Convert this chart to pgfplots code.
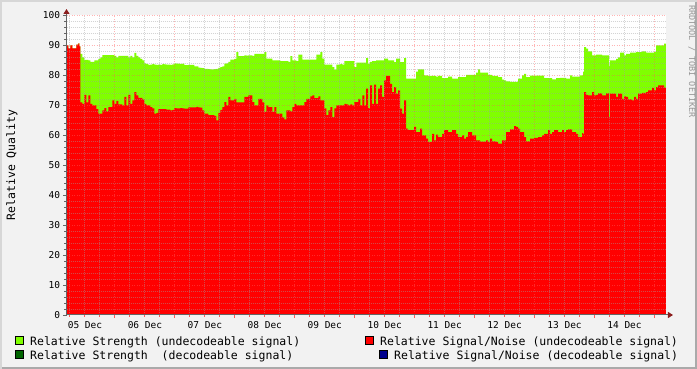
\documentclass[border=0pt]{standalone}
\usepackage{pgfplots}
\pgfplotsset{compat=1.18}
\usepackage{pgfplotstable}
\usepackage{fontspec}
\setmainfont{DejaVu Sans Mono}
\usetikzlibrary{arrows.meta}
\definecolor{bggray}{RGB}{242,242,242}
\definecolor{sgreen}{RGB}{128,255,0}
\definecolor{sred}{RGB}{255,0,0}
\definecolor{dgreen}{RGB}{0,100,0}
\definecolor{dblue}{RGB}{0,0,140}
\definecolor{arrowred}{RGB}{140,30,30}
\definecolor{axgray}{RGB}{100,100,100}
\definecolor{mgridred}{RGB}{255,90,90}
\definecolor{gridgray}{RGB}{160,160,160}

\pgfplotstableread{
x g r
66 90 90
68 89 89
70 90 90
72 89 89
74 89 89
76 90.3 90.3
78 90.7 90.7
79 89.7 89.7
80 87.2 71
82 86 70.5
84 85.2 73.5
86 85.2 71
88 85 73.3
90 84.5 70.5
92 84.5 70
94 85 70
96 85 68.7
98 85.5 67.2
100 86 67.2
102 86.8 68.3
104 86.8 69.1
106 86.8 68
108 86.8 69.4
110 86.8 69.4
112 86.8 71.7
114 86.5 70.5
116 86 71.5
118 86.5 70.3
120 86.5 70.3
122 86.5 70
124 86.5 72.8
126 86.5 70
128 86 73.5
130 86.5 70.5
132 86 71.7
134 87.5 74.4
136 86.5 73.3
138 86 72.5
140 85.5 72.5
142 85 72
144 84 70.5
146 83.8 70
148 83.5 70
150 83.6 69.4
152 83.8 69
154 83.6 67.2
156 83.5 67.5
158 83.6 68.7
160 83.5 68.7
162 83.8 68.7
164 83.7 68.7
166 83.6 68.6
168 83.6 68.6
170 83.5 68.3
172 83.7 68.5
174 84.0 69.1
176 83.9 69
178 83.9 69
180 83.8 69.1
182 83.9 69
184 83.4 68.9
186 83.4 68.9
188 83.5 69.3
190 83.5 69.3
192 83.5 69.3
194 83 69.3
196 83 69.5
198 82.6 69.3
200 82.5 69.2
202 82.4 68.3
204 82.2 67.2
206 82.2 67.2
208 82.1 66.7
210 82 66.7
212 82 66.7
214 82.1 66.5
216 82.2 65
218 82.5 67.5
220 82.8 68.5
222 83 69.4
224 83.9 71.1
226 84 70
228 84.5 72.8
230 85.3 71.7
232 85.3 71.7
234 85.5 72.2
236 87.8 71
238 86.4 71
240 86.4 71
242 86.4 71
244 86.7 72.8
246 86.6 72.8
248 86.7 73.3
250 86.7 73.3
252 86.5 71.1
254 87.2 70
256 87.2 70
258 87.2 72.2
260 87.2 72.2
262 87.2 71
264 87.8 67.8
266 85.6 70
268 85.6 69.4
270 85.6 69.4
272 85 67.8
274 85 69.4
276 85 67.2
278 85 67.2
280 84.8 67.2
282 84.8 66
284 84.8 65.3
286 84.8 68.3
288 84.5 68.3
290 86.4 68
292 85 69.4
294 85 70.5
296 84.8 70
298 86.9 70
300 86.9 70
302 85.3 70
304 85.3 71.1
306 85.3 72.2
308 85.3 72.2
310 85.3 73
312 85.3 73.3
314 85.3 72.4
316 86.9 72.4
318 86.9 73
320 87.8 71.7
322 85.6 71.7
324 83.6 69
326 83.6 66.7
328 83.6 68.3
330 83.6 69.4
332 82.8 66.1
334 81.9 69
336 83.6 70
338 83.6 70
340 83.8 70
342 83.6 70
344 84.8 70.5
346 84.8 70.3
348 84.8 70
350 84.8 70.3
352 84.8 70
354 82.8 71.1
356 84.3 71.1
358 84.3 72.2
360 84.3 70
362 84.3 73.3
364 84.3 70
366 85.8 75.6
368 83.9 69.1
370 84.5 76.7
372 84.8 70.5
374 84.8 76.9
376 85 70.5
378 85 75.6
380 85 76.7
382 85 72.8
384 85.6 78.3
386 85.6 79.8
388 85 79.8
390 85 77.2
392 85 74.4
394 84.4 76.1
396 85.6 73.9
398 85.6 75
400 84.4 68.9
402 84.4 67.2
404 85.8 71.7
406 78.9 62.2
408 78.9 61.7
410 78.9 61.7
412 78.9 61.7
414 78.9 62.8
416 81.3 61.1
418 82 61.1
420 82 62.2
422 82 60
424 80 60
426 80 58.9
428 79.8 57.8
430 79.8 57.8
432 79.8 60.5
434 79.8 58.3
436 79.6 60.2
438 79.8 59.4
440 79.8 59.4
442 79.1 60.5
444 79.1 61.7
446 79.1 61.7
448 79.6 61.1
450 79.6 61.1
452 78.9 61.7
454 78.9 61.7
456 78.9 60.5
458 79.4 59.4
460 79.4 59.4
462 79.4 60
464 79.4 58.9
466 80.2 59.5
468 80.2 61.1
470 80.2 61.1
472 80.2 60
474 80.2 60
476 80.9 58.3
478 82 58.3
480 80.9 57.9
482 80.9 57.9
484 80.9 57.9
486 80.9 58.3
488 80.2 57.8
490 80.2 58.9
492 79.8 58
494 79.8 58
496 79.8 57.8
498 79.4 57.2
500 79.4 57.2
502 78.6 58.3
504 78.3 58.3
506 78 61.1
508 78 61.1
510 77.8 62
512 77.8 62
514 77.8 63.1
516 77.8 62.8
518 78.9 62.2
520 78.9 61.1
522 80 61.1
524 80.5 59.4
526 79.4 58
528 79.4 58
530 79.9 58.9
532 79.9 58.9
534 79.9 59.1
536 79.9 59.1
538 79.9 59.4
540 79.9 59.4
542 79.9 60
544 79.1 60.5
546 79.1 60.5
548 79.1 61.7
550 79.1 60.5
552 78.7 61.1
554 78.7 61.7
556 79.1 61.7
558 79.1 61.1
560 79.2 61.1
562 79.2 61.7
564 79.2 61.1
566 78.9 61.7
568 78.9 62
570 80 62
572 79.6 61.1
574 79.6 61.1
576 79.6 60.5
578 79.6 59.4
580 80 59.4
582 80 60.7
583 81.3 60.5
584 89.4 74.4
586 88.9 73.5
588 88 73.3
590 88 73.3
592 86.7 74.4
594 86.7 73.3
596 86.9 73.5
598 86.9 74
600 86.9 74
602 86.7 73.3
604 86.7 73.3
606 86.7 74
608 86.7 74
609 83.3 66.1
610 85 73.9
612 85 73.9
614 85 73.9
616 85.5 72.8
618 86 73.9
620 87.6 73.9
622 87.6 72.2
624 86.7 73
626 87.2 72.8
628 87.2 72
630 87.6 72
632 87.6 71.7
634 87.6 72.8
636 87.8 72.2
638 87.8 73.9
640 87.8 73.9
642 88 74.2
644 88 74.2
646 87.6 74.4
648 87.6 75
650 87.6 75
652 87.6 75.8
654 87.8 75
656 90 76.1
658 90 76.7
660 90 76.7
662 90 76.7
664 90.6 75.9
666 90.6 75.9
}\quality

\begin{document}
\begin{tikzpicture}
\fill[bggray] (0,0) rectangle (697bp,369bp);
\draw[color={rgb,255:red,170;green,170;blue,170}, line width=2bp] (0,1bp) -- (696bp,1bp) -- (696bp,369bp);
\draw[color={rgb,255:red,215;green,215;blue,215}, line width=2bp] (1bp,0) -- (1bp,368bp) -- (697bp,368bp);
\begin{axis}[
  at={(66.5bp,54bp)}, anchor=south west,
  scale only axis, width=599.5bp, height=299.5bp,
  xmin=66, xmax=666, ymin=0, ymax=100,
  axis background/.style={fill=white},
  axis x line*=bottom, axis y line*=left,
  axis line style={draw=axgray, line width=1bp},
  x axis line style={-{Triangle[length=5bp,width=6bp,color=arrowred]}, shorten >=-7bp},
  y axis line style={-{Triangle[length=5bp,width=6bp,color=arrowred]}, shorten >=-6.5bp},
  axis on top,
  ytick={0,10,...,100}, minor y tick num=4,
  ymajorgrids, yminorgrids,
  xtick={114,174,...,654},
  xticklabels={05 Dec,06 Dec,07 Dec,08 Dec,09 Dec,10 Dec,11 Dec,12 Dec,13 Dec,14 Dec},
  xticklabel style={xshift=-29.5bp},
  xmajorgrids,
  minor xtick={69,84,99,129,144,159,189,204,219,249,264,279,309,324,339,369,384,399,429,444,459,489,504,519,549,564,579,609,624,639},
  xminorgrids,
  major grid style={draw=mgridred, opacity=0.45, dash pattern=on 1bp off 1.5bp, line width=1bp},
  minor grid style={draw=gridgray, opacity=0.45, dash pattern=on 1bp off 1bp, line width=1bp},
  tick align=outside, major tick length=3bp, minor tick length=2bp,
  xtick style={draw=mgridred}, ytick style={draw=axgray},
  minor tick style={draw=gridgray},
  tick label style={font=\fontsize{9.5bp}{11bp}\selectfont, text=black},
  /pgf/number format/assume math mode=true,
  clip=true,
]
\addplot[const plot, fill=sgreen, draw=none] table[x=x, y=g] {\quality} \closedcycle;
\addplot[const plot, fill=sred, draw=none] table[x=x, y=r] {\quality} \closedcycle;
\end{axis}
\node[rotate=90, font=\fontsize{11.5bp}{13bp}\selectfont] at (12bp,204bp) {Relative Quality};
\node[rotate=-90, anchor=west, inner sep=0pt, text={rgb,255:red,150;green,150;blue,150}, font=\fontsize{8.5bp}{9bp}\selectfont] at (692bp,364bp) {RRDTOOL / TOBI OETIKER};
\begin{scope}[font=\fontsize{11.5bp}{13bp}\selectfont]
\filldraw[fill=sgreen, draw=black, line width=0.8bp] (15.5bp,24.5bp) rectangle (23.5bp,32.5bp);
\node[anchor=base west, inner sep=0pt] at (30bp,24bp) {Relative Strength (undecodeable signal)};
\filldraw[fill=sred, draw=black, line width=0.8bp] (365.5bp,24.5bp) rectangle (373.5bp,32.5bp);
\node[anchor=base west, inner sep=0pt] at (380bp,24bp) {Relative Signal/Noise (undecodeable signal)};
\filldraw[fill=dgreen, draw=black, line width=0.8bp] (15.5bp,10.5bp) rectangle (23.5bp,18.5bp);
\node[anchor=base west, inner sep=0pt] at (30bp,10bp) {Relative Strength~~(decodeable signal)};
\filldraw[fill=dblue, draw=black, line width=0.8bp] (379.5bp,10.5bp) rectangle (387.5bp,18.5bp);
\node[anchor=base west, inner sep=0pt] at (394bp,10bp) {Relative Signal/Noise (decodeable signal)};
\end{scope}
\pgfresetboundingbox
\useasboundingbox (0,0) rectangle (697bp,369bp);
\end{tikzpicture}
\end{document}
